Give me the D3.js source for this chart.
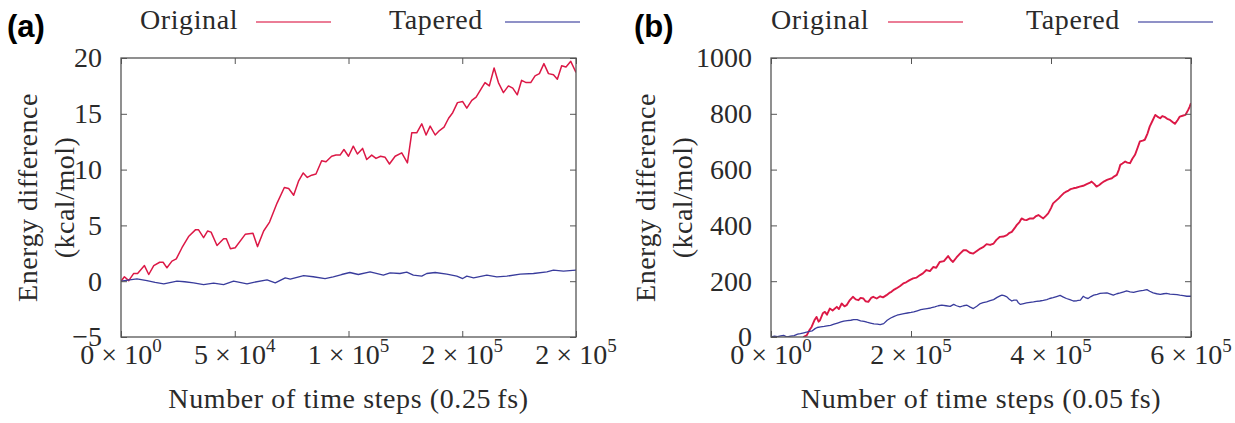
<!DOCTYPE html>
<html>
<head>
<meta charset="utf-8">
<script src="https://cdn.jsdelivr.net/npm/d3@7"></script>
<style>
  body { margin: 0; background: #fff; }
</style>
</head>
<body>
<div id="chart"></div>
<script>
// ---- data (steps in thousands) ----
var seriesNames = ["Original", "Tapered"];

// panel (a): 0.25 fs
var origA_steps = [0,1.5,3.4,5.6,7.3,10.3,12.2,14.4,17,18.5,20.2,22.4,24.3,26.8,29.7,32.7,34.1,36.3,38.1,39.6,42.2,45.1,46.3,48.1,50.2,54.6,58,60,62.7,65.3,68.6,71.8,73.7,75.9,78.1,80.1,81.9,83.8,85.7,88.2,90.1,92.6,94.5,96.3,98,100,102.1,103.9,106.2,108,110.2,112.1,114.1,116.1,118,120.5,123.4,125.9,127.8,130,132.2,134.1,135.9,138.1,140,142,144,145.8,147.9,150.2,152,154.2,156.1,158.5,160,161.9,164,165.9,168.1,170.3,172.2,174.2,176.1,178.1,180.1,182,183.9,185.9,187.9,190.1,191.8,193.7,195.6,197.7,200];
var origA_vals = [0,0.4,0.05,0.7,0.7,1.4,0.6,1.4,1.7,1.7,1.2,1.8,2.0,3.0,4.0,4.6,4.6,3.9,4.5,4.4,3.2,3.8,3.8,2.9,3.0,4.2,4.3,3.1,4.5,5.3,7.0,8.4,8.3,7.7,9.0,9.7,9.3,9.5,9.6,10.8,10.7,11.2,11.3,11.3,11.8,11.2,12.1,11.4,11.9,10.9,11.3,11.0,11.2,11.1,10.5,11.2,11.5,10.6,13.3,13.3,14.1,13.1,13.9,13.1,13.5,13.8,14.6,15.1,16.0,16.1,15.5,16.2,16.5,17.3,17.8,17.5,19.1,17.8,16.9,17.5,17.3,16.7,18.0,17.8,17.8,18.4,18.6,19.5,18.6,18.5,18.1,19.3,19.2,19.7,18.7];
var tapA_steps = [0,3,7,11.4,15,18.8,22,24.6,28,31.9,36.3,40.7,45.1,49.5,55.4,58.3,64.2,67.8,72.2,74.4,80.3,84.5,89.7,93.3,97,100.6,104.3,109.5,115.3,118.3,122.6,125.6,128.5,132.2,134.4,138.1,143.2,147.6,150.2,152,155,160.8,165.2,169.6,175.5,181.3,187.2,190.1,194.5,200];
var tapA_vals = [0,0.1,0.2,0.06,-0.1,-0.24,-0.1,0,-0.05,-0.15,-0.3,-0.18,-0.3,0,-0.24,-0.1,0.12,-0.15,0.3,0.18,0.5,0.4,0.24,0.39,0.6,0.78,0.6,0.84,0.54,0.75,0.69,0.81,0.54,0.45,0.69,0.78,0.63,0.45,0.24,0.45,0.3,0.54,0.39,0.45,0.63,0.69,0.84,0.99,0.9,0.99];

// panel (b): 0.05 fs
var origB_steps = [46,51,55,58,62,65,68,70,74,77,80,84,88,94,97,101,105,108,112,117,121,125,128,132,135,139,143,146,151,156,160,165,169,172,176,179,184,189,193,198,203,208,213,217,222,227,232,236,241,247,253,257,260,265,270,275,279,284,289,294,299,303,308,313,318,322,327,332,337,340,344,348,351,355,358,362,365,370,375,378,382,386,389,393,396,400,403,407,411,414,418,421,425,428,432,436,441,446,451,455,458,462,465,469,472,476,480,483,487,490,494,497,499,502,506,509,513,516,520,524,527,531,534,538,541,545,549,552,556,559,563,566,570,574,577,581,584,588,592,596,598,600];
var origB_vals = [0,6,25,36,60,72,55,60,85,90,80,102,95,108,100,120,110,114,130,144,135,132,140,138,128,126,140,144,138,146,142,150,158,162,170,174,182,192,196,204,210,213,222,228,240,236,251,248,269,272,290,276,269,285,299,311,311,302,299,308,317,322,333,330,335,348,359,360,365,372,377,390,401,412,425,420,419,425,425,432,437,430,425,435,443,462,479,488,497,505,515,520,525,530,533,535,539,542,548,552,557,548,539,545,551,558,563,566,569,575,581,600,617,622,629,625,623,638,653,680,701,704,707,730,754,775,796,790,784,792,788,782,778,770,764,778,790,793,796,814,825,838];
var tapB_steps = [0,5,9,14,18,23,28,33,38,42,47,52,55,59,63,66,71,76,80,85,90,95,100,104,109,114,118,123,128,133,137,142,147,152,156,161,166,171,176,180,185,190,195,200,204,209,214,218,223,228,234,239,244,250,256,261,265,270,275,280,284,289,294,299,303,308,313,318,323,328,330,333,337,340,344,347,351,353,356,361,365,370,375,379,384,389,394,398,403,408,413,417,422,427,432,437,442,446,450,453,457,461,466,470,475,480,485,489,494,499,504,508,513,518,522,527,532,537,541,546,551,556,561,565,570,575,580,584,589,594,600];
var tapB_vals = [0,3,1,4,6,0,3,5,10,12,15,18,20,22,30,34,36,38,40,42,46,50,54,57,59,60,62,62,58,56,53,50,47,46,44,48,60,68,74,78,81,84,86,88,90,94,98,100,102,104,108,112,114,112,110,117,112,108,112,114,108,102,110,120,123,126,130,134,142,148,150,148,144,136,129,132,132,124,117,120,122,124,126,128,129,131,134,138,141,145,149,144,138,134,129,130,132,146,140,138,145,150,153,156,157,158,154,150,155,158,162,165,162,160,163,165,167,170,164,158,155,153,155,156,154,153,152,150,148,146,146];

// ticks
var aXTicks = [0, 50, 100, 150, 200];
var aXMant = ["0", "5", "1", "2", "2"];
var aXExp = ["0", "4", "5", "5", "5"];
var aYTicks = [-5, 0, 5, 10, 15, 20];
var bXTicks = [0, 200, 400, 600];
var bXMant = ["0", "2", "4", "6"];
var bXExp = ["0", "5", "5", "5"];
var bYTicks = [0, 200, 400, 600, 800, 1000];

var colors = ["#dc1846", "#393c9c"];
var serif = "'Liberation Serif', 'DejaVu Serif', serif";

var W = 1235, H = 423;
var svg = d3.select("#chart").append("svg").attr("width", W).attr("height", H);
svg.append("rect").attr("width", W).attr("height", H).attr("fill", "#fff");

var panels = [
  {id: "a", label: "(a)", labelX: 7, left: 121, right: 576, xMax: 200, yDom: [-5, 20],
   xTicks: aXTicks, mant: aXMant, exp: aXExp, yTicks: aYTicks,
   title: "Number of time steps (0.25\u2009fs)", ytX: [37, 74],
   legend: [140, 256, 389, 505],
   series: [[origA_steps, origA_vals, 1.5], [tapA_steps, tapA_vals, 1.3]]},
  {id: "b", label: "(b)", labelX: 634, left: 771, right: 1191, xMax: 600, yDom: [0, 1000],
   xTicks: bXTicks, mant: bXMant, exp: bXExp, yTicks: bYTicks,
   title: "Number of time steps (0.05\u2009fs)", ytX: [655, 692],
   legend: [771, 888, 1026, 1138],
   series: [[origB_steps, origB_vals, 1.9], [tapB_steps, tapB_vals, 1.3]]}
];

var plotTop = 58, plotBottom = 337;

panels.forEach(function (p) {
  var x = d3.scaleLinear().domain([0, p.xMax]).range([p.left, p.right]);
  var y = d3.scaleLinear().domain(p.yDom).range([plotBottom, plotTop]);
  var g = svg.append("g");

  g.append("clipPath").attr("id", "clip-" + p.id)
    .append("rect").attr("x", p.left).attr("y", plotTop)
    .attr("width", p.right - p.left).attr("height", plotBottom - plotTop);

  // lines
  p.series.forEach(function (s, i) {
    var pts = s[0].map(function (d, j) { return [d, s[1][j]]; });
    var line = d3.line().x(function (d) { return x(d[0]); }).y(function (d) { return y(d[1]); });
    g.append("path").datum(pts)
      .attr("clip-path", "url(#clip-" + p.id + ")")
      .attr("fill", "none").attr("stroke", colors[i])
      .attr("stroke-width", s[2]).attr("stroke-linejoin", "round")
      .attr("d", line);
  });

  // axes with inward ticks
  var axB = d3.axisBottom(x).tickValues(p.xTicks).tickSizeInner(-6).tickSizeOuter(0).tickFormat("");
  var axT = d3.axisTop(x).tickValues(p.xTicks).tickSizeInner(-6).tickSizeOuter(0).tickFormat("");
  var axL = d3.axisLeft(y).tickValues(p.yTicks).tickSizeInner(-6).tickSizeOuter(0).tickPadding(19).tickFormat(d3.format("d"));
  var axR = d3.axisRight(y).tickValues(p.yTicks).tickSizeInner(-6).tickSizeOuter(0).tickFormat("");
  var gb = g.append("g").attr("transform", "translate(0," + plotBottom + ")").call(axB);
  var gt = g.append("g").attr("transform", "translate(0," + plotTop + ")").call(axT);
  var gl = g.append("g").attr("transform", "translate(" + p.left + ",0)").call(axL);
  var gr = g.append("g").attr("transform", "translate(" + p.right + ",0)").call(axR);
  [gb, gt, gl, gr].forEach(function (a) {
    a.select(".domain").remove();
    a.attr("font-family", serif).attr("font-size", 28);
    a.selectAll(".tick line").attr("stroke", "#555").attr("stroke-width", 1);
  });
  gl.selectAll(".tick text")
    .attr("fill", "#2a2a2a")
    .text(function (d) { return d < 0 ? "\u2212" + Math.abs(d) : d; });

  g.append("rect").attr("x", p.left).attr("y", plotTop)
    .attr("width", p.right - p.left).attr("height", plotBottom - plotTop)
    .attr("fill", "none").attr("stroke", "#555").attr("stroke-width", 1.3);

  // x tick labels like "5 × 10^4"
  var xl = g.selectAll("text.xl").data(p.xTicks).enter().append("text")
    .attr("class", "xl").attr("x", function (d) { return x(d); }).attr("y", 364)
    .attr("text-anchor", "middle").attr("font-family", serif).attr("font-size", 28)
    .attr("fill", "#2a2a2a");
  xl.append("tspan").text(function (d, i) { return p.mant[i] + " \u00d7 10"; });
  xl.append("tspan").attr("dy", -12).attr("font-size", 19)
    .text(function (d, i) { return p.exp[i]; });

  // axis titles
  g.append("text").attr("x", (p.left + p.right) / 2).attr("y", 408)
    .attr("text-anchor", "middle").attr("font-family", serif).attr("font-size", 28)
    .attr("fill", "#2a2a2a").style("letter-spacing", "0.6px")
    .text(p.title);
  var cy = (plotTop + plotBottom) / 2;
  ["Energy difference", "(kcal/mol)"].forEach(function (t, i) {
    g.append("text").attr("transform", "translate(" + p.ytX[i] + "," + cy + ") rotate(-90)")
      .attr("text-anchor", "middle").attr("font-family", serif).attr("font-size", 28)
      .attr("fill", "#2a2a2a").style("letter-spacing", "0.5px")
      .text(t);
  });

  // legend
  seriesNames.forEach(function (n, i) {
    g.append("text").attr("x", p.legend[i * 2]).attr("y", 29)
      .attr("font-family", serif).attr("font-size", 28).attr("fill", "#2a2a2a")
      .style("letter-spacing", "0.6px").text(n);
    g.append("line").attr("x1", p.legend[i * 2 + 1]).attr("x2", p.legend[i * 2 + 1] + 75)
      .attr("y1", 22).attr("y2", 22).attr("stroke", colors[i]).attr("stroke-width", 1.5)
      .attr("opacity", 0.75);
  });

  // panel label
  g.append("text").attr("x", p.labelX).attr("y", 37)
    .attr("font-family", "'Liberation Sans', Arial, sans-serif").attr("font-weight", "bold")
    .attr("font-size", 31).attr("fill", "#000").text(p.label);
});
</script>
</body>
</html>
